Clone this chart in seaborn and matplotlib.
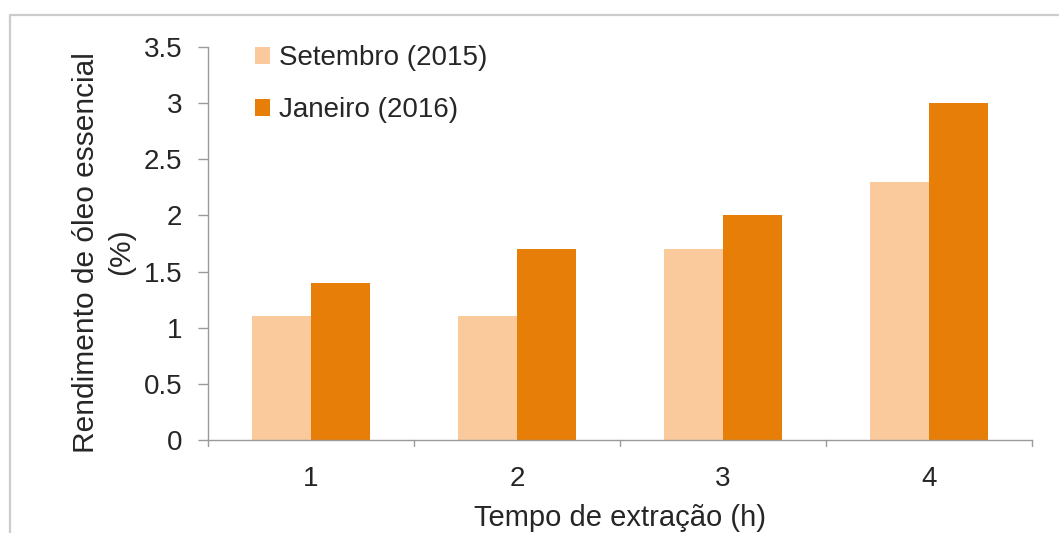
import matplotlib
matplotlib.use("Agg")
import matplotlib.pyplot as plt
import seaborn as sns
import pandas as pd
from matplotlib.lines import Line2D

categories = ["1", "2", "3", "4"]
series_names = ["Setembro (2015)", "Janeiro (2016)"]
setembro = [1.1, 1.1, 1.7, 2.3]
janeiro = [1.4, 1.7, 2.0, 3.0]
yticks = [0, 0.5, 1, 1.5, 2, 2.5, 3, 3.5]
ytick_labels = ["0", "0.5", "1", "1.5", "2", "2.5", "3", "3.5"]
colors = ["#FAC99C", "#E67E07"]

df = pd.DataFrame({
    "tempo": categories * 2,
    "valor": setembro + janeiro,
    "serie": [series_names[0]] * 4 + [series_names[1]] * 4,
})

sns.set_style("white")
plt.rcParams["font.family"] = ["Liberation Sans", "DejaVu Sans"]

fig = plt.figure(figsize=(10.59, 5.33), dpi=100)
ax = fig.add_axes([0.1964, 0.1745, 0.778, 0.7373])

sns.barplot(data=df, x="tempo", y="valor", hue="serie", order=categories,
            hue_order=series_names, palette=colors, width=0.573, gap=0,
            saturation=1, ax=ax, linewidth=0, edgecolor="none")

ax.set_ylim(0, 3.5)
ax.set_xlim(-0.5, 3.5)
ax.set_yticks(yticks)
ax.set_yticklabels(ytick_labels, fontsize=20)
ax.set_xticks([0, 1, 2, 3])
ax.set_xticklabels(categories, fontsize=20)
ax.tick_params(axis="x", length=0, pad=18.5)
ax.tick_params(axis="y", length=7.5, color="#9a9a9a", width=1, direction="out", pad=11, left=True)

# category separator ticks
for xb in [-0.5, 0.5, 1.5, 2.5, 3.5]:
    ax.plot([xb, xb], [0, -0.05], color="#9a9a9a", lw=1, clip_on=False)

for s in ["top", "right"]:
    ax.spines[s].set_visible(False)
for s in ["left", "bottom"]:
    ax.spines[s].set_color("#9a9a9a")
    ax.spines[s].set_linewidth(1)

ax.set_xlabel("Tempo de extração (h)", fontsize=21)
ax.xaxis.set_label_coords(0.5, -0.162)
ax.set_ylabel("Rendimento de óleo essencial\n(%)", fontsize=21.5, linespacing=1.3)
ax.yaxis.set_label_coords(-0.127, 0.478)
ax.yaxis.label.set_va("center")

leg = ax.legend(loc="upper left", bbox_to_anchor=(0.057, 1.005), frameon=False,
                fontsize=20, handlelength=0.55, handleheight=0.55,
                handletextpad=0.3, labelspacing=0.95, borderaxespad=0, borderpad=0)

# figure frame lines (left and top)
fig.add_artist(Line2D([10/1059, 10/1059], [0, 1 - 15/533], transform=fig.transFigure,
                      color="#cccccc", lw=1.6))
fig.add_artist(Line2D([10/1059, 1], [1 - 15/533, 1 - 15/533], transform=fig.transFigure,
                      color="#cccccc", lw=1.6))

fig.savefig("out.png", dpi=100)
